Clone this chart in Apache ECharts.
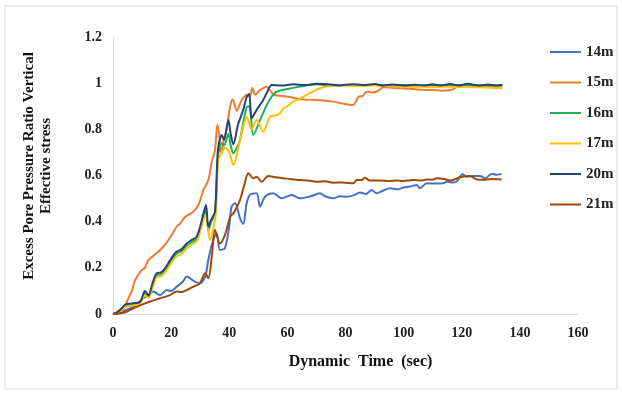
<!DOCTYPE html>
<html>
<head>
<meta charset="utf-8">
<script src="https://cdn.jsdelivr.net/npm/echarts@6/dist/echarts.min.js"></script>
<style>
  html, body { margin: 0; padding: 0; background: #fff; }
  #chart { width: 622px; height: 395px; }
</style>
</head>
<body>
<div id="chart"></div>
<script>
// Excess pore pressure ratio vs dynamic time, per depth
const depths = ['14m', '15m', '16m', '17m', '20m', '21m'];
const colors = ['#4472C4', '#ED7D31', '#1FAF57', '#FFC000', '#264478', '#9E480E'];

const s14 = [[0,0],[3,0.01],[6,0.025],[8,0.04],[10.4,0.068],[12,0.08],[13.9,0.097],[16.2,0.082],[18.5,0.104],[20,0.1],[21.9,0.118],[24,0.14],[25.4,0.162],[27,0.15],[28.2,0.14],[29.9,0.133],[31.7,0.162],[32.8,0.234],[34,0.3],[35.7,0.35],[36.8,0.277],[38.5,0.285],[40,0.38],[40.8,0.465],[42,0.48],[43.7,0.415],[44.8,0.39],[46,0.48],[47.1,0.516],[49.4,0.523],[50.6,0.465],[52.3,0.508],[55.2,0.523],[58,0.501],[61.5,0.516],[64.4,0.501],[68,0.51],[71.2,0.523],[73,0.51],[75.8,0.501],[78,0.51],[80.4,0.508],[83,0.515],[85,0.526],[87,0.52],[89,0.537],[90.7,0.523],[93,0.535],[95.3,0.545],[98,0.54],[100,0.548],[102.2,0.552],[104.5,0.559],[105.6,0.545],[108,0.566],[111,0.565],[113.7,0.566],[114.8,0.573],[116.5,0.57],[118.2,0.573],[120.3,0.605],[121.7,0.595],[124,0.598],[126.3,0.598],[128,0.588],[130.3,0.607],[132,0.603],[133.7,0.607]];

const s15 = [[0,0],[2,0.005],[3.5,0.02],[5.3,0.068],[6.5,0.1],[7.6,0.147],[9.9,0.19],[11,0.2],[12.2,0.234],[15,0.263],[17.9,0.3],[20.2,0.342],[21.9,0.378],[23,0.39],[24.8,0.42],[27.6,0.443],[29.4,0.472],[31.1,0.537],[32.8,0.58],[34,0.66],[35.1,0.71],[35.9,0.82],[36.5,0.78],[37.2,0.7],[38.2,0.76],[39.1,0.8],[40.3,0.9],[41.2,0.93],[42.6,0.88],[44,0.92],[46,0.95],[47,0.94],[48,0.98],[48.9,0.95],[50.5,0.97],[52.9,0.985],[54,0.97],[55.2,0.95],[58,0.945],[61,0.94],[64.4,0.93],[68,0.928],[72,0.925],[75.8,0.92],[79,0.912],[82.6,0.905],[84.4,0.94],[86,0.945],[87.3,0.963],[89,0.96],[91,0.965],[93,0.982],[96,0.98],[98.8,0.978],[102,0.976],[105,0.973],[108,0.97],[111,0.97],[113.6,0.967],[116,0.97],[117.7,0.978],[118.8,0.992],[121.7,0.99],[125,0.987],[129,0.985],[133.7,0.982]];

const s16 = [[0,0],[1,0.005],[2.4,0.015],[4.1,0.035],[6,0.042],[9.3,0.05],[11,0.09],[12.2,0.078],[13.5,0.12],[15,0.168],[16.5,0.172],[17.9,0.19],[19.5,0.22],[20.8,0.245],[21.9,0.262],[23.5,0.272],[25.4,0.296],[27,0.31],[28.8,0.325],[30,0.37],[31.1,0.42],[32,0.45],[32.8,0.36],[33.8,0.4],[35.1,0.43],[36.1,0.68],[37.4,0.74],[38.2,0.73],[39.7,0.78],[40.5,0.73],[41.4,0.696],[43,0.73],[43.7,0.754],[45,0.84],[46,0.895],[46.9,0.9],[48.3,0.775],[50.6,0.84],[52.9,0.905],[54.5,0.94],[56.3,0.963],[60,0.975],[64.4,0.985],[70,0.995],[75,0.99],[80,0.992],[85,0.99],[90,0.992],[95,0.99],[100,0.991],[105,0.99],[110,0.992],[115,0.99],[120,0.991],[125,0.99],[130,0.99],[134,0.99]];

const s17 = [[0,0],[1,0.003],[2.4,0.012],[4.1,0.03],[6,0.036],[9.3,0.045],[11,0.08],[12.2,0.07],[13.5,0.11],[15,0.16],[16.5,0.163],[17.9,0.18],[19.5,0.21],[20.8,0.235],[21.9,0.25],[23.5,0.26],[25.4,0.285],[27,0.3],[28.8,0.315],[30,0.355],[31.1,0.405],[32,0.43],[33.4,0.32],[34.5,0.37],[35.5,0.45],[36.2,0.667],[37.4,0.696],[38.5,0.72],[39.7,0.71],[40.5,0.68],[41.4,0.645],[43.7,0.754],[45,0.82],[46,0.855],[47.7,0.8],[49.4,0.84],[51.7,0.79],[54,0.855],[56,0.86],[57.5,0.87],[58.6,0.89],[60,0.9],[62,0.92],[64,0.93],[66.7,0.95],[69,0.965],[71.2,0.978],[73,0.985],[75.8,0.99],[80,0.99],[85,0.988],[90,0.99],[95,0.987],[100,0.985],[105,0.985],[110,0.983],[115,0.985],[120,0.983],[125,0.982],[130,0.98],[134,0.978]];

const s20 = [[0,0],[1,0.005],[2.4,0.017],[4.1,0.04],[6,0.045],[9.3,0.053],[11,0.1],[12.2,0.08],[13.5,0.13],[15,0.176],[16.5,0.18],[17.9,0.198],[19.5,0.23],[20.8,0.255],[21.9,0.27],[23.5,0.28],[25.4,0.306],[27,0.32],[28.8,0.335],[30,0.38],[31.1,0.436],[32,0.472],[32.8,0.378],[33.8,0.41],[35.1,0.443],[36.1,0.71],[37.4,0.775],[38.2,0.754],[39.7,0.84],[40.5,0.78],[41.4,0.735],[43,0.82],[44.8,0.884],[46,0.94],[46.9,0.953],[47.7,0.848],[49.4,0.884],[51.7,0.927],[53,0.96],[54.6,0.992],[58,0.99],[62,0.995],[66,0.992],[70,0.997],[74,0.995],[78,0.99],[80,0.993],[83,0.995],[87,0.992],[90,0.996],[93,0.99],[96,0.994],[100,0.99],[104,0.993],[107,0.99],[110,0.995],[113,0.99],[116,0.996],[119,0.99],[122,0.997],[126,0.99],[129,0.994],[132,0.99],[134,0.993]];

const s21 = [[0,0],[2,0.002],[4.7,0.01],[7,0.025],[10.4,0.043],[13,0.055],[16.2,0.068],[19.6,0.082],[21.9,0.097],[23.5,0.095],[25.4,0.104],[27.6,0.118],[29.9,0.133],[31.7,0.176],[32.8,0.155],[34,0.25],[35.1,0.364],[36.8,0.306],[38.5,0.342],[40.3,0.42],[41.4,0.436],[42.5,0.46],[43.7,0.494],[45,0.55],[46.6,0.61],[48.3,0.588],[49.4,0.595],[51.2,0.573],[53.4,0.598],[56,0.592],[58.6,0.588],[61,0.585],[64.4,0.58],[67,0.578],[70,0.573],[73,0.575],[75.8,0.569],[79,0.57],[82.7,0.566],[83.8,0.58],[85.5,0.58],[86.7,0.59],[88.4,0.578],[92,0.578],[95,0.576],[97.6,0.578],[100,0.576],[103.3,0.58],[106,0.578],[108,0.583],[110,0.582],[111.4,0.588],[114,0.585],[116,0.578],[119.4,0.592],[122.8,0.598],[125.2,0.583],[128,0.582],[131,0.585],[133.7,0.583]];

const seriesData = [s14, s15, s16, s17, s20, s21];

const font = '"Liberation Serif", "Times New Roman", serif';
const chart = echarts.init(document.getElementById('chart'));

chart.setOption({
  animation: false,
  backgroundColor: '#fff',
  graphic: [{
    type: 'rect',
    shape: { x: 5, y: 6, width: 612, height: 383 },
    style: { fill: 'none', stroke: '#d9d9d9', lineWidth: 1 }
  }],
  grid: { left: 113, right: 44, top: 37, bottom: 81 },
  legend: {
    orient: 'vertical',
    left: 545,
    top: 39,
    itemWidth: 31,
    itemHeight: 2,
    itemGap: 14.5,
    icon: 'rect',
    textStyle: { fontFamily: font, fontWeight: 'bold', fontSize: 15, color: '#222', lineHeight: 16 },
    data: depths
  },
  xAxis: {
    type: 'value',
    min: 0, max: 160, interval: 20,
    name: 'Dynamic  Time  (sec)',
    nameLocation: 'middle',
    nameGap: 40,
    nameTextStyle: { fontFamily: font, fontWeight: 'bold', fontSize: 16, color: '#111', padding: [0, 0, 0, 30] },
    axisLine: { lineStyle: { color: '#d9d9d9' } },
    axisTick: { show: false },
    axisLabel: { fontFamily: font, fontWeight: 'bold', fontSize: 14, color: '#222', margin: 12 },
    splitLine: { show: false }
  },
  yAxis: {
    type: 'value',
    min: 0, max: 1.2, interval: 0.2,
    name: 'Excess Pore Pressure Ratio Vertical\nEffective stress',
    nameLocation: 'middle',
    nameGap: 58,
    nameTextStyle: { fontFamily: font, fontWeight: 'bold', fontSize: 15, color: '#111', lineHeight: 17, padding: [0, 0, 0, 19] },
    axisLine: { show: true, lineStyle: { color: '#d9d9d9' } },
    axisTick: { show: false },
    axisLabel: { fontFamily: font, fontWeight: 'bold', fontSize: 14, color: '#222', margin: 11 },
    splitLine: { show: false }
  },
  series: depths.map((name, i) => ({
    name: name,
    type: 'line',
    data: seriesData[i],
    showSymbol: false,
    smooth: 0.3,
    lineStyle: { width: 2, color: colors[i] },
    itemStyle: { color: colors[i] }
  }))
});
</script>
</body>
</html>
